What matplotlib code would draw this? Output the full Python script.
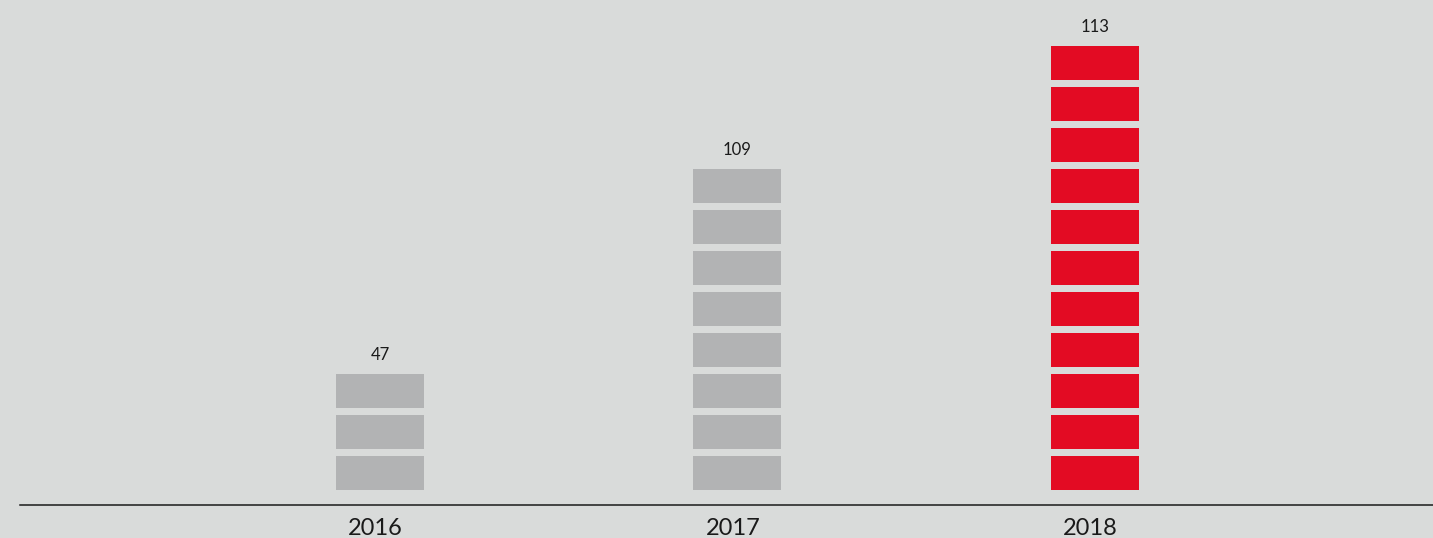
import numpy as np
import matplotlib.pyplot as plt

# data
years = ['2016', '2017', '2018']
values = [47, 109, 113]
blocks = [3, 8, 11]          # number of stacked blocks drawn per year
colors = ['#b2b3b4', '#b2b3b4', '#e30b23']

bg = '#d9dbda'
block_h = 34 / 41            # block height relative to block pitch
bar_w = 88 / 357.5

fig = plt.figure(figsize=(14.33, 5.38), dpi=100, facecolor=bg)
ax = fig.add_axes([0, 0, 1, 1])
ax.set_facecolor(bg)

x = np.arange(len(years))
for i in range(len(years)):
    for k in range(blocks[i]):
        ax.bar(x[i], block_h, bottom=k, width=bar_w, color=colors[i],
               align='center', linewidth=0)
    ax.text(x[i], blocks[i] - 1 + block_h + 0.28, str(values[i]),
            ha='center', va='bottom', fontsize=12, color='#1a1a1a',
            family='Lato')
    ax.text(x[i] - 0.012, -0.93, years[i], ha='center', va='center',
            fontsize=17, color='#1a1a1a', family='Lato')

ax.set_xlim(-380 / 357.5, (1433 - 380) / 357.5)
ax.set_ylim(-48 / 41, 490 / 41)
ax.axhline(-15 / 41, xmin=20 / 1433, xmax=1, color='#1a1a1a', lw=1.1)
ax.axis('off')

fig.savefig('out.png', dpi=100, facecolor=bg)
